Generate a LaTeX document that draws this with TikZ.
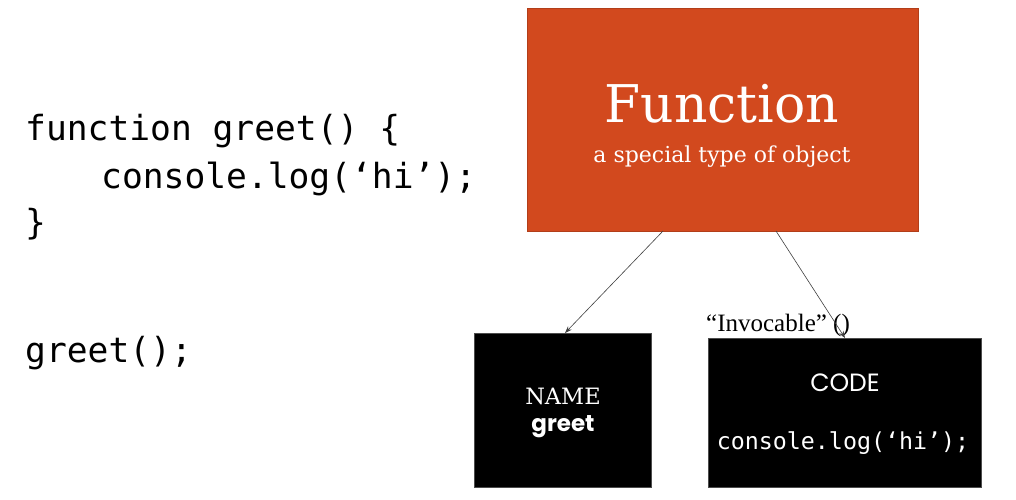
\documentclass[tikz,border=0pt]{standalone}
\usepackage{fontspec}
\setmainfont{DejaVu Serif}
\newfontfamily\codefont{DejaVu Sans Mono}
\newfontfamily\geofont{Poppins}
\newfontfamily\timesfont{Liberation Serif}
\usetikzlibrary{arrows.meta}
\definecolor{fnorange}{RGB}{210,73,30}
\begin{document}
\begin{tikzpicture}[x=1pt,y=-1pt,
  blackbox/.style={draw=black!70,fill=black,inner sep=0pt,anchor=north west},
  conn/.style={draw=black!75,line width=0.6pt,-{Stealth[length=7pt,width=5pt]}},
  codetext/.style={font=\codefont\fontsize{34.6}{48}\selectfont,anchor=base west,inner sep=0pt}]
\useasboundingbox (0,0) rectangle (1016,499);
\fill[white] (0,0) rectangle (1016,499);
% left code
\node[codetext] (l1) at (25,140) {function greet() \{};
\node[codetext] (l2) at (101,188) {console.log(‘hi’);};
\node[codetext] (l3) at (25,234) {\}};
\node[codetext] (l4) at (25,362) {greet();};
% orange box
\node[draw=fnorange!85!black,fill=fnorange,minimum width=391pt,minimum height=223pt,anchor=north west,inner sep=0pt] (fn) at (527,8) {};
\node[text=white,font=\fontsize{52}{58}\selectfont] (fntitle) at (722,104) {Function};
\node[text=white,font=\fontsize{22}{26}\selectfont] (fnsub) at (722,157) {a special type of object};
% black boxes
\node[blackbox,minimum width=177pt,minimum height=154pt] (name) at (474,333) {};
\node[blackbox,minimum width=273pt,minimum height=149pt] (code) at (708,338) {};
\node[text=white,font=\fontsize{22.5}{26}\selectfont] (nametxt) at (563,396) {NAME};
\node[text=white,font=\geofont\bfseries\fontsize{23}{26}\selectfont] (greettxt) at (563,427) {greet};
\node[text=white,font=\geofont\fontsize{25}{28}\selectfont] (codetxt) at (845,383) {CODE};
\node[text=white,font=\codefont\fontsize{23.3}{28}\selectfont] (codeline) at (843,443) {console.log(‘hi’);};
\node[font=\timesfont\fontsize{25}{28}\selectfont,anchor=west,inner sep=0pt] (invoc) at (706,325) {“Invocable” ()};
% arrows
\coordinate (a1s) at (663,231);
\coordinate (a1e) at (565,333);
\coordinate (a2s) at (776,231);
\coordinate (a2e) at (845,338);
\draw[conn] (a1s) -- (a1e);
\draw[conn] (a2s) -- (a2e);
\end{tikzpicture}
\end{document}
